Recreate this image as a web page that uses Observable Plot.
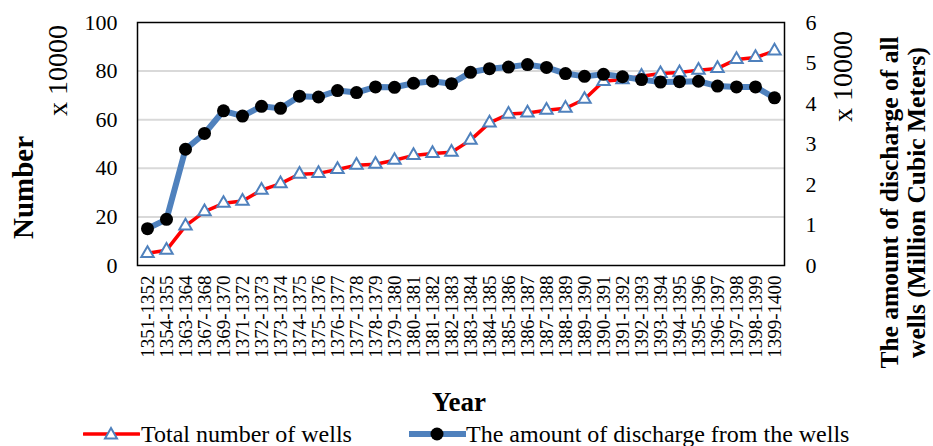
<!DOCTYPE html>
<html>
<head>
<meta charset="utf-8">
<script src="https://cdn.jsdelivr.net/npm/d3@7"></script>
<script src="https://cdn.jsdelivr.net/npm/@observablehq/plot@0.6"></script>
<style>
  html, body { margin: 0; padding: 0; background: #fff; }
  #wrap { width: 933px; }
  #chart svg { display: block; }
  #chart svg text { font-family: "Liberation Serif", "Times New Roman", serif; }
  #legend { position: relative; width: 933px; height: 30px; color: #000; overflow: visible; }
  #legend .sw { position: absolute; top: 7px; }
  #legend .lb { position: absolute; top: 7px; height: 22px; line-height: 22px; white-space: nowrap; font-family: "Liberation Serif", "Times New Roman", serif; font-size: 24px; }
</style>
</head>
<body>
<div id="wrap">
  <div id="chart"></div>
  <div id="legend"></div>
</div>
<script>
const years = ["1351-1352","1354-1355","1363-1364","1367-1368","1369-1370","1371-1372","1372-1373","1373-1374","1374-1375","1375-1376","1376-1377","1377-1378","1378-1379","1379-1380","1380-1381","1381-1382","1382-1383","1383-1384","1384-1385","1385-1386","1386-1387","1387-1388","1388-1389","1389-1390","1390-1391","1391-1392","1392-1393","1393-1394","1394-1395","1395-1396","1396-1397","1397-1398","1398-1399","1399-1400"];
// Total number of wells (x 10000), left axis
const wells = [5, 6.3, 16.3, 22.2, 25.6, 26.5, 31.0, 33.7, 37.6, 37.9, 39.5, 41.3, 41.7, 43.3, 45.3, 46.1, 46.6, 51.6, 58.7, 62.3, 62.8, 63.9, 64.7, 68.4, 75.8, 76.5, 77.9, 79.0, 79.4, 80.4, 81.1, 84.8, 85.6, 88.3];
// Amount of discharge (x 10000 million m3), right axis
const discharge = [0.91, 1.14, 2.87, 3.26, 3.82, 3.69, 3.93, 3.88, 4.18, 4.16, 4.32, 4.27, 4.41, 4.40, 4.50, 4.55, 4.49, 4.77, 4.86, 4.90, 4.96, 4.89, 4.74, 4.67, 4.72, 4.66, 4.59, 4.53, 4.54, 4.55, 4.43, 4.41, 4.41, 4.14];
const leftTicks = [0, 20, 40, 60, 80, 100];
const rightTicks = [0, 1, 2, 3, 4, 5, 6];
const gridTicks = [20, 40, 60, 80];
const leftMax = 100, rightMax = 6;
const seriesNames = ["Total number of wells", "The amount of discharge from the wells"];

const k = leftMax / rightMax;
const data = years.map((y, i) => ({year: y, wells: wells[i], discharge: discharge[i], d2: discharge[i] * k}));

const RED = "#ff0000", BLUE = "#4f81bd";
const FONT = "'Liberation Serif', 'Times New Roman', serif";

const plot = Plot.plot({
  width: 933,
  height: 416,
  marginTop: 22,
  marginBottom: 151,
  marginLeft: 137,
  marginRight: 149,
  style: {fontFamily: FONT, fontSize: "22px", color: "#000", background: "#fff"},
  x: {type: "point", domain: years, padding: 0.5},
  y: {domain: [0, leftMax]},
  marks: [
    Plot.gridY(gridTicks, {stroke: "#d9d9d9", strokeOpacity: 1, strokeWidth: 2}),
    Plot.axisY(leftTicks, {anchor: "left", tickSize: 0, tickPadding: 20, fontSize: 22, fontFamily: FONT, label: null}),
    Plot.axisY(rightTicks.map(t => t * k), {anchor: "right", tickSize: 0, tickPadding: 21, fontSize: 22, fontFamily: FONT, label: null, tickFormat: d => String(Math.round(d / k))}),
    Plot.axisX({anchor: "bottom", tickSize: 0, tickPadding: 10, tickRotate: -90, fontSize: 19, fontFamily: FONT, label: null}),
    Plot.line(data, {x: "year", y: "wells", stroke: RED, strokeWidth: 3.5}),
    Plot.dot(data, {x: "year", y: "wells", symbol: "triangle", r: 4.6, fill: "white", stroke: BLUE, strokeWidth: 2}),
    Plot.line(data, {x: "year", y: "d2", stroke: BLUE, strokeWidth: 6}),
    Plot.dot(data, {x: "year", y: "d2", r: 6.5, fill: "black", stroke: "none"}),
    Plot.frame({stroke: "black", strokeWidth: 1.5}),
    Plot.text(["Number"], {frameAnchor: "top-left", dx: -114, dy: 165, rotate: -90, fontFamily: FONT, fontWeight: "bold", fontSize: 29, textAnchor: "middle", lineAnchor: "middle"}),
    Plot.text(["x 10000"], {frameAnchor: "top-left", dx: -79, dy: 48, rotate: -90, fontFamily: FONT, fontSize: 28, textAnchor: "middle", lineAnchor: "middle"}),
    Plot.text(["x 10000"], {frameAnchor: "top-right", dx: 59, dy: 54, rotate: -90, fontFamily: FONT, fontSize: 28, textAnchor: "middle", lineAnchor: "middle"}),
    Plot.text(["The amount of discharge of all\nwells (Million Cubic Meters)"], {frameAnchor: "top-right", dx: 118, dy: 180, rotate: -90, fontFamily: FONT, fontWeight: "bold", fontSize: 25.5, lineHeight: 1.08, textAnchor: "middle", lineAnchor: "middle"}),
    Plot.text(["Year"], {frameAnchor: "bottom", dx: -2, dy: 137, fontFamily: FONT, fontWeight: "bold", fontSize: 27, textAnchor: "middle", lineAnchor: "middle"})
  ]
});
document.getElementById("chart").appendChild(plot);

// Legend
const legend = d3.select("#legend");
const items = [
  {name: seriesNames[0], swX: 83, txtX: 141, color: RED, lw: 3.5, marker: "tri"},
  {name: seriesNames[1], swX: 409, txtX: 466, color: BLUE, lw: 6, marker: "dot"}
];
items.forEach(it => {
  const s = legend.append("svg").attr("class", "sw").attr("width", 57).attr("height", 22).style("left", it.swX + "px");
  s.append("line").attr("x1", 1).attr("x2", 56).attr("y1", 11).attr("y2", 11).attr("stroke", it.color).attr("stroke-width", it.lw).attr("stroke-linecap", "round");
  if (it.marker === "tri") {
    s.append("path").attr("d", d3.symbol(d3.symbolTriangle, 62)()).attr("transform", "translate(28,12)").attr("fill", "white").attr("stroke", BLUE).attr("stroke-width", 2);
  } else {
    s.append("circle").attr("cx", 28).attr("cy", 11).attr("r", 6.5).attr("fill", "black");
  }
  legend.append("div").attr("class", "lb").style("left", it.txtX + "px").style("font-family", FONT).text(it.name);
});
</script>
</body>
</html>
